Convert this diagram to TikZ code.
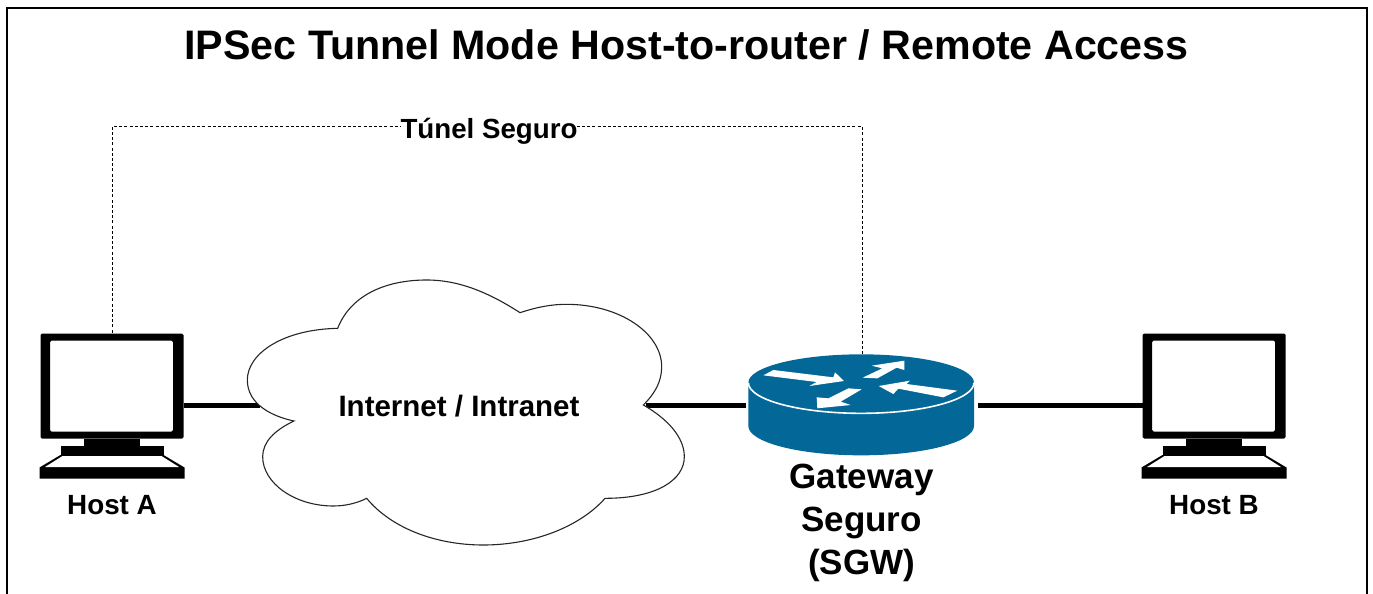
\documentclass[tikz,border=0pt]{standalone}
\usepackage{fontspec}
\setmainfont{Liberation Sans}
\definecolor{routerblue}{HTML}{036897}
\tikzset{
  x=1pt,y=-1pt,
  anchorbox/.style={inner sep=0pt,outer sep=0pt,minimum width=#1},
  wire/.style={line width=5pt,black},
  tunnel/.style={line width=1pt,black,dash pattern=on 3pt off 2.2pt},
  frameline/.style={line width=2pt,black},
  caption/.style={font=\bfseries,inner sep=0pt,align=center,text=black},
  pics/computer/.style={code={
    \fill[black,rounded corners=1.5pt,even odd rule] (-71.5,-72) rectangle (71.5,33) (-62,-65) rectangle (61,26);
    \fill[black] (-28,33) rectangle (28,41);
    \fill[black] (-51.5,40) rectangle (51.5,50);
    \fill[black] (-51.5,49.5) -- (-72.5,62) -- (-72.5,73) -- (72.5,73) -- (72.5,62) -- (51.5,49.5) -- cycle;
    \fill[white] (-49.5,50.5) -- (-67,61.5) -- (67,61.5) -- (49.5,50.5) -- cycle;
  }}
}
\begin{document}
\begin{tikzpicture}
\useasboundingbox (0,0) rectangle (1373,594);
% frame
\draw[frameline] (6.5,594) -- (6.5,8.5) -- (1366.5,8.5) -- (1366.5,594);
% anchors
\node[anchorbox=143pt,minimum height=145pt] (hostA) at (112,405) {};
\node[anchorbox=143pt,minimum height=145pt] (hostB) at (1214,405) {};
\node[anchorbox=232pt,minimum height=100pt] (router) at (862,405) {};
\node[anchorbox=386pt,minimum height=10pt] (cloud) at (453,405) {};
% connectors
\draw[wire] (hostA.east) -- (cloud.west);
\draw[wire] (cloud.east) -- (router.west);
\draw[wire] (router.east) -- (hostB.west);
\coordinate (tunnelL) at (112,126.5);
\coordinate (tunnelR) at (862,126.5);
\draw[tunnel] (hostA.north) -- (tunnelL) -- (tunnelR) -- (router.north);
% title and labels
\node[caption,font=\bfseries\fontsize{41.2}{47}\selectfont] (title) at (686.5,45) {IPSec Tunnel Mode Host-to-router / Remote Access};
\node[caption,fill=white,inner xsep=0pt,inner ysep=2pt,font=\bfseries\fontsize{27.7}{32}\selectfont] (tunnellabel) at (489,131.5) {Túnel Seguro};
% cloud
\begin{scope}[shift={(230,270)},x=.33333pt,y=-.33333pt]
\draw[line width=1.1pt,black!85,fill=white] (192,453)
  .. controls (130,440) and (52,405) .. (52,330)
  .. controls (52,250) and (160,178) .. (323,175)
  .. controls (360,80) and (460,30) .. (590,30)
  .. controls (690,30) and (780,70) .. (870,128)
  .. controls (920,112) and (960,103) .. (1010,103)
  .. controls (1170,103) and (1295,190) .. (1295,290)
  .. controls (1295,335) and (1275,370) .. (1240,405)
  .. controls (1310,445) and (1363,500) .. (1363,560)
  .. controls (1363,630) and (1280,685) .. (1125,685)
  .. controls (1050,770) and (910,825) .. (760,825)
  .. controls (610,825) and (480,770) .. (410,685)
  .. controls (380,700) and (345,708) .. (310,708)
  .. controls (195,708) and (98,640) .. (98,560)
  .. controls (98,515) and (135,480) .. (192,453) -- cycle;
\end{scope}
\node[caption,font=\bfseries\fontsize{29.5}{34}\selectfont] (cloudlabel) at (459,406) {Internet / Intranet};
% hosts
\pic[yshift=-.5pt] at (hostA.center) {computer};
\pic[yshift=-.5pt] at (hostB.center) {computer};
\node[caption,font=\bfseries\fontsize{27.8}{32}\selectfont] (hostAlabel) at (112,505) {Host A};
\node[caption,font=\bfseries\fontsize{27.8}{32}\selectfont] (hostBlabel) at (1214,505) {Host B};
% router
\begin{scope}[shift={(720,320)},x=.33333pt,y=-.33333pt]
\fill[routerblue] (85,188) -- (85,318) arc[start angle=180,end angle=0,x radius=338.5,y radius=88] -- (762,188) arc[start angle=0,end angle=-180,x radius=338.5,y radius=85] -- cycle;
\draw[white,line width=1.6pt] (85,188) arc[start angle=180,end angle=0,x radius=338.5,y radius=92];
\fill[white] (130,166) -- (160,150) -- (340,172) -- (345,157) -- (372,183) -- (268,198) -- (290,186) -- cycle;
\fill[white] (455,137) -- (553,122) -- (553,150) -- (530,143) -- (472,175) -- (428,173) -- (487,145) -- cycle;
\fill[white] (476,198) -- (570,182) -- (560,192) -- (712,212) -- (670,232) -- (535,206) -- (520,222) -- cycle;
\fill[white] (425,208) -- (385,205) -- (325,235) -- (290,232) -- (292,265) -- (392,255) -- (362,245) -- cycle;
\end{scope}
\node[caption,font=\bfseries\fontsize{35}{43}\selectfont] (routerlabel) at (861.5,523) {Gateway\\Seguro\\(SGW)};
\end{tikzpicture}
\end{document}
